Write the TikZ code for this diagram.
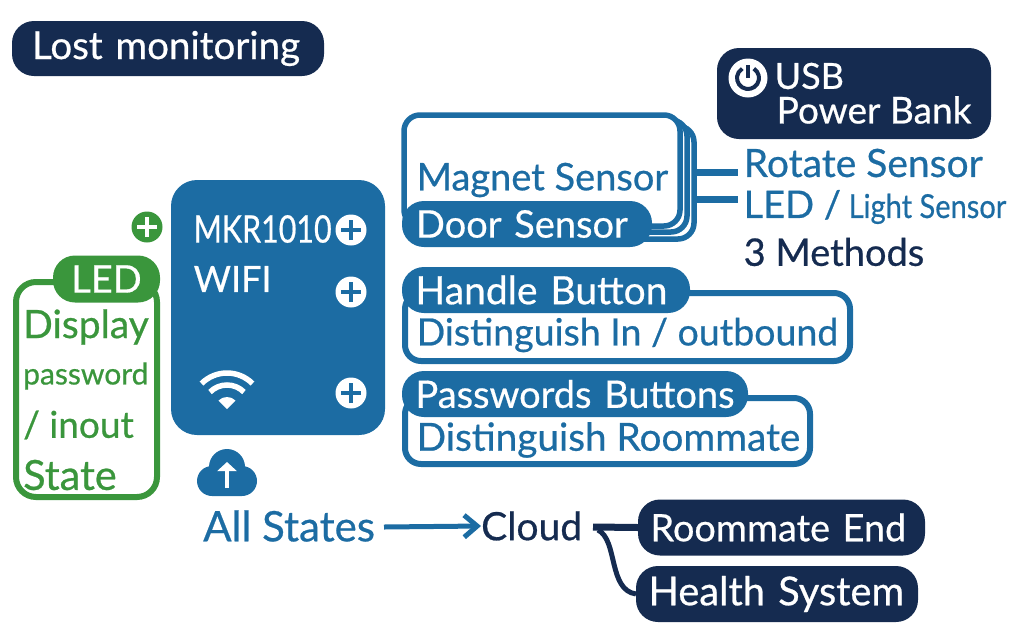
\documentclass[tikz,border=0pt]{standalone}
\usepackage{fontspec}
\setmainfont{Lato}[FakeBold=0.6]
\usetikzlibrary{arrows.meta}
\definecolor{navy}{HTML}{152B50}
\definecolor{ablue}{HTML}{1C6CA3}
\definecolor{agreen}{HTML}{3A963C}
\newcommand{\fs}[1]{\fontsize{#1}{#1}\selectfont}
\tikzset{
	box/.style={rounded corners=#1,inner sep=0pt,outer sep=0pt},
	pill/.style={box=22pt,fill=ablue,text=white,align=left,inner xsep=13.5pt,anchor=west,minimum height=46pt,font=\fs{38}},
	navypill/.style={box=22pt,fill=navy,text=white,align=left,inner xsep=12.5pt,anchor=west,minimum height=56pt,font=\fs{38}},
	frame/.style={box=16pt,draw=ablue,fill=white,line width=6pt,anchor=north west},
	label/.style={anchor=west,inner sep=0pt,text=ablue,font=\fs{38}},
	greenlabel/.style={label,text=agreen},
	plusdot/.style 2 args={circle,fill=#1,minimum size=31pt,inner sep=0pt,path picture={
		\draw[#2,line width=4.5pt] (path picture bounding box.center) +(-10pt,0) -- +(10pt,0) +(0,-10pt) -- +(0,10pt);}},
	link/.style={line width=7pt},
}
\begin{document}
\begin{tikzpicture}[x=1pt,y=-1pt]
	\useasboundingbox (0,0) rectangle (1032,643);

	\node[navypill,inner xsep=20pt,text width=272pt,minimum height=55pt,font=\fs{38.5}] (lost) at (12,48.5) {Lost monitoring};

	\node[box=22pt,fill=navy,anchor=north west,minimum width=274pt,minimum height=91pt] (power) at (717,48) {};
	\node[circle,fill=white,minimum size=39pt,inner sep=0pt] (powericon) at (748,78) {};
	\draw[navy,line width=4pt] (powericon.center) ++(58:11pt) arc (58:-238:11pt);
	\draw[navy,line width=4pt] (powericon.center) -- ++(0,-13);
	\node[label,text=white,font=\fs{36}] (usb) at (774.5,76) {USB};
	\node[label,text=white,font=\fs{37}] (bank) at (776.5,110) {Power Bank};

	% sensor stack, back to front
	\node[frame,line width=5.5pt,minimum width=284pt,minimum height=113pt] (stackc) at (410,126) {};
	\node[frame,line width=5.5pt,minimum width=280pt,minimum height=112pt] (stackb) at (407,120) {};
	\node[frame,line width=5.5pt,minimum width=276pt,minimum height=111pt] (stacka) at (404,115) {};
	\node[pill,text width=222pt,minimum width=250pt] (door) at (402,224) {Door Sensor};
	\node[label] (magnet) at (416.5,180) {Magnet Sensor};

	\node[label,font=\fs{39}] (rotate) at (743.5,163) {Rotate Sensor};
	\node[label] (led) at (743.5,207) {LED /\hspace{-2pt} {\fs{33}\scalebox{0.88}[1]{Light Sensor}}};
	\node[label,text=navy] (methods) at (743.5,252) {3 Methods};
	\coordinate (rotateend) at (738,172);
	\coordinate (ledend) at (738,199);
	\draw[ablue,link] (stackc.east |- rotateend) -- (rotateend);
	\draw[ablue,link] (stackc.east |- ledend) -- (ledend);

	\node[frame,minimum width=445pt,minimum height=68pt] (handleframe) at (405,293) {};
	\node[pill,text width=261pt,font=\fs{39}] (handle) at (402,290) {Handle Button};
	\node[label,font=\fs{37.5}] (inout) at (416.5,335) {Distinguish In / outbound};

	\node[frame,minimum width=405pt,minimum height=66pt] (passframe) at (405,398) {};
	\node[pill,text width=319pt] (pass) at (402,394) {\mbox{Passwords Buttons}};
	\node[label,font=\fs{38.7}] (mate) at (416.5,440) {Distinguish Roommate};

	\node[box=26pt,fill=ablue,anchor=north west,minimum width=214pt,minimum height=255pt] (mkr) at (171,180) {};
	\node[label,text=white] (board) at (193.5,229) {\scalebox{0.8}[1]{MKR1010}};
	\node[label,text=white,font=\fs{36}] (wifi) at (193.5,279) {WIFI};
	\foreach \n/\y in {a/230,b/292,c/393}
	\node[plusdot={white}{ablue}] (plus\n) at (351,\y) {};
	\node[plusdot={agreen}{white}] (plusled) at (147,227) {};

	% wifi waves
	\coordinate (wifitip) at (227,409);
	\draw[white,line width=5.5pt] (wifitip) ++(45:36pt) arc (45:135:36pt);
	\draw[white,line width=5.5pt] (wifitip) ++(45:24pt) arc (45:135:24pt);
	\fill[white] (wifitip) -- ++(45:12pt) arc (45:135:12pt) -- cycle;

	% upload cloud
	\fill[ablue] (227,467) circle (18pt) (212,481) circle (15pt) (242,481) circle (15pt) (212,470) rectangle (242,496);
	\draw[white,line width=3.5pt,-{Triangle[length=9pt,width=19pt]}] (227,488) -- (227,462);

	\node[box=20pt,draw=agreen,fill=white,line width=6pt,anchor=north west,minimum width=141pt,minimum height=215pt] (ledframe) at (16,282) {};
	\node[pill,fill=agreen,inner xsep=0pt,align=center,text width=107pt,minimum height=47pt] (ledpill) at (53,279) {LED};
	\node[greenlabel,font=\fs{39}] (display) at (23,327) {Display};
	\node[greenlabel,font=\fs{30}] (password) at (23,376) {password};
	\node[greenlabel,font=\fs{37}] (inoutstate) at (23,425) {/ inout};
	\node[greenlabel,font=\fs{41.5}] (state) at (23,475) {State};

	\node[label,font=\fs{42}] (states) at (203,526) {All States};
	\node[label,text=navy,font=\fs{39}] (cloud) at (481,526) {Cloud};
	\node[navypill,text width=262pt,font=\fs{37.8}] (mateend) at (638,527.5) {Roommate End};
	\node[navypill,text width=257pt,font=\fs{39.8}] (health) at (636,594) {Health System};
	\coordinate (statesend) at (384,527);
	\draw[ablue,line width=5pt,-{Straight Barb[length=13pt,width=22pt]}] (statesend) -- (cloud.west);
	\draw[navy,link] (593,527) -- (mateend.west);
	\draw[navy,line width=5pt] (598,530) .. controls (618,540) and (608,590) .. (health.west);
\end{tikzpicture}
\end{document}
